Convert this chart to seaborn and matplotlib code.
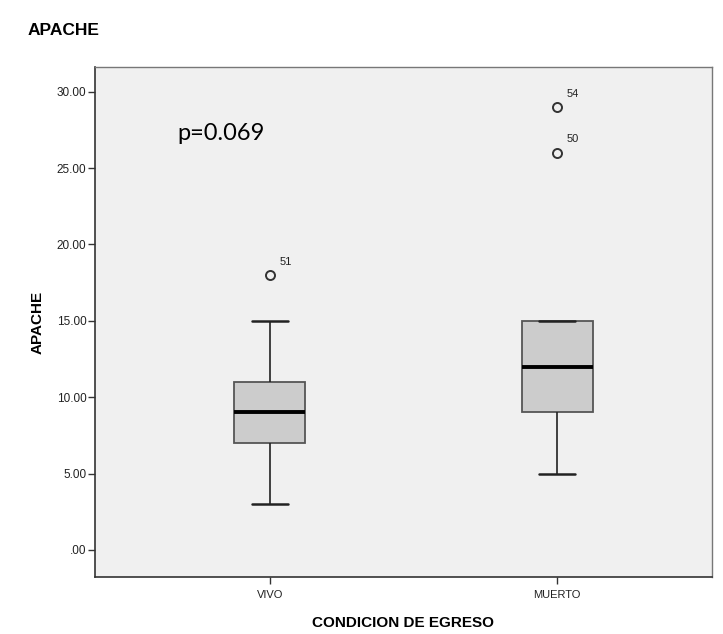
import matplotlib
matplotlib.use("Agg")
import matplotlib.pyplot as plt
import seaborn as sns
import pandas as pd
import numpy as np

# Data (values reconstructed to reproduce the boxplot statistics)
vivo_values = [3, 5, 7, 7, 8, 9, 9, 10, 11, 11, 13, 15, 18]
muerto_values = [5, 7, 9, 9, 10, 11, 12, 13, 14, 15, 15, 26, 29]
categories = ["VIVO", "MUERTO"]
outlier_ids = {("VIVO", 18): "51", ("MUERTO", 26): "50", ("MUERTO", 29): "54"}
y_ticks = [0, 5, 10, 15, 20, 25, 30]
y_tick_labels = [".00", "5.00", "10.00", "15.00", "20.00", "25.00", "30.00"]

df = pd.DataFrame({
    "CONDICION DE EGRESO": ["VIVO"] * len(vivo_values) + ["MUERTO"] * len(muerto_values),
    "APACHE": vivo_values + muerto_values,
})

sns.set_theme(style="white")
plt.rcParams["font.family"] = ["Liberation Sans", "DejaVu Sans"]
plt.rcParams["text.color"] = "black"
plt.rcParams["axes.labelcolor"] = "black"

fig = plt.figure(figsize=(7.23, 6.34), dpi=100)
ax = fig.add_axes([0.131, 0.0899, 0.854, 0.804])
ax.set_facecolor("#f0f0f0")

sns.boxplot(
    data=df, x="CONDICION DE EGRESO", y="APACHE", order=categories,
    width=0.247, color="#cccccc", linecolor="#444444", linewidth=1.3,
    whis=1.5, ax=ax,
    medianprops=dict(color="black", linewidth=2.8),
    whiskerprops=dict(color="#222222", linewidth=1.2),
    capprops=dict(color="#222222", linewidth=1.8),
    flierprops=dict(marker="o", markersize=6.5, markerfacecolor="none",
                    markeredgecolor="#333333", markeredgewidth=1.4),
    boxprops=dict(facecolor="#cccccc", edgecolor="#555555"),
)

# outlier labels
for (cat, val), lab in outlier_ids.items():
    xpos = categories.index(cat)
    ax.annotate(lab, (xpos, val), xytext=(7, 6), textcoords="offset points",
                fontsize=8, color="#222222", ha="left", va="bottom")

ax.set_xlim(-0.61, 1.54)
ax.set_ylim(-1.77, 31.6)
ax.set_yticks(y_ticks)
ax.set_yticklabels(y_tick_labels)
ax.tick_params(axis="both", which="both", direction="out", length=5, width=1,
               color="#333333", labelcolor="#222222", pad=1,
               left=True, bottom=True)
ax.tick_params(axis="y", labelsize=8.5)
ax.tick_params(axis="x", labelsize=8, pad=4)
ax.set_xlabel("CONDICION DE EGRESO", fontsize=11, fontweight="bold", labelpad=12)
ax.set_ylabel("APACHE", fontsize=11, fontweight="bold", labelpad=9)

for s in ["left", "bottom"]:
    ax.spines[s].set_color("#333333")
    ax.spines[s].set_linewidth(1.2)
for s in ["top", "right"]:
    ax.spines[s].set_color("#777777")
    ax.spines[s].set_linewidth(1.0)

ax.text(0.134, 0.857, "p=0.069", transform=ax.transAxes, fontsize=17,
        family=["Lato", "DejaVu Sans"], color="black", ha="left", va="baseline")

fig.text(0.038, 0.952, "APACHE", fontsize=12.5, fontweight="bold", ha="left", va="center")

fig.savefig("out.png", dpi=100)
